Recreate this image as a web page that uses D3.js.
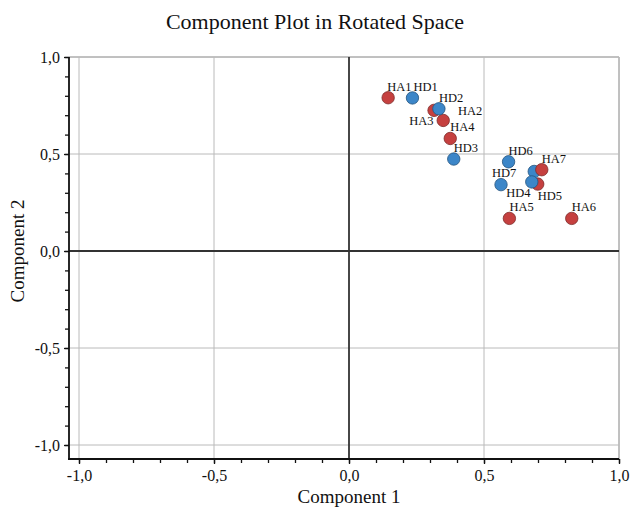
<!DOCTYPE html>
<html>
<head>
<meta charset="utf-8">
<script src="https://cdn.jsdelivr.net/npm/d3@7"></script>
<style>
  body { margin: 0; background: #fff; }
  svg { display: block; }
  text { font-family: "Liberation Serif", "DejaVu Serif", serif; fill: #111; }
</style>
</head>
<body>
<svg id="chart" width="630" height="510"></svg>
<script>
// ---- data ----
const haNames = ["HA1", "HA2", "HA3", "HA4", "HA5", "HA6", "HA7", ""];
const haX = [0.145, 0.315, 0.349, 0.375, 0.594, 0.825, 0.714, 0.699];
const haY = [0.790, 0.725, 0.673, 0.580, 0.168, 0.168, 0.419, 0.345];

const hdNames = ["HD1", "HD2", "HD3", "HD4", "HD5", "HD6", "HD7"];
const hdX = [0.235, 0.333, 0.388, 0.686, 0.677, 0.591, 0.563];
const hdY = [0.789, 0.733, 0.474, 0.410, 0.356, 0.460, 0.342];

const majorTicks = [-1.0, -0.5, 0.0, 0.5, 1.0];
const minorTicks = [-1.0, -0.9, -0.8, -0.7, -0.6, -0.5, -0.4, -0.3, -0.2, -0.1, 0.0,
                    0.1, 0.2, 0.3, 0.4, 0.5, 0.6, 0.7, 0.8, 0.9, 1.0];

const title = "Component Plot in Rotated Space";
const xTitle = "Component 1";
const yTitle = "Component 2";

// ---- layout / style (not data) ----
const labelOffsets = {   // [dx, dy] from point centre to text start / baseline
  "HA1": [-1, -7], "HD1": [1, -7],
  "HA2": [24, 5], "HA3": [-34, 5], "HD7": [-9, -8], "HD4": [-28, 26], "HD5": [6, 18]
};
const defaultOffset = [0, -7];
const colors = {
  HA: { fill: "#c5403f", stroke: "#7d2b2a" },
  HD: { fill: "#3c86c8", stroke: "#24547f" }
};

const svg = d3.select("#chart");
const x = d3.scaleLinear().domain([-1, 1]).range([79, 619]);
const y = d3.scaleLinear().domain([-1, 1]).range([445, 57]);
const xMinLeft = x.invert(69);
const yMinBottom = y.invert(459);
const fmt = d => d3.format(".1f")(d).replace(".", ",").replace("−", "-");

// title
svg.append("text").attr("x", 315).attr("y", 29).attr("text-anchor", "middle")
  .style("font-size", "22px").text(title);

// frame top/right
svg.append("line").attr("x1", x(xMinLeft)).attr("x2", x(1)).attr("y1", y(1)).attr("y2", y(1))
  .attr("stroke", "#b4b4b4").attr("stroke-width", 1.5);
svg.append("line").attr("x1", x(1)).attr("x2", x(1)).attr("y1", y(1)).attr("y2", y(yMinBottom))
  .attr("stroke", "#b4b4b4").attr("stroke-width", 1.5);

// gridlines
const gridVals = majorTicks.filter(v => v !== 0);
svg.append("g").selectAll("line.gx").data(gridVals).join("line")
  .attr("x1", d => x(d)).attr("x2", d => x(d)).attr("y1", y(1)).attr("y2", y(yMinBottom))
  .attr("stroke", "#bababa").attr("stroke-width", 1);
svg.append("g").selectAll("line.gy").data(gridVals).join("line")
  .attr("x1", x(xMinLeft)).attr("x2", x(1)).attr("y1", d => y(d)).attr("y2", d => y(d))
  .attr("stroke", "#bababa").attr("stroke-width", 1);

// zero lines
svg.append("line").attr("x1", x(0)).attr("x2", x(0)).attr("y1", y(1)).attr("y2", y(yMinBottom))
  .attr("stroke", "#333").attr("stroke-width", 1.8);
svg.append("line").attr("x1", x(xMinLeft)).attr("x2", x(1)).attr("y1", y(0)).attr("y2", y(0))
  .attr("stroke", "#333").attr("stroke-width", 1.8);

// axes
const xAxisG = svg.append("g").attr("transform", `translate(0,${y(yMinBottom)})`);
xAxisG.call(d3.axisBottom(x).tickValues(minorTicks).tickSize(4).tickFormat(""));
xAxisG.select(".domain").remove();
xAxisG.selectAll(".tick line").attr("stroke", "#111").attr("stroke-width", 1.3);
const xLab = svg.append("g").attr("transform", `translate(0,${y(yMinBottom)})`);
xLab.call(d3.axisBottom(x).tickValues(majorTicks).tickSize(5).tickPadding(6).tickFormat(fmt));
xLab.select(".domain").remove();
xLab.selectAll(".tick line").attr("stroke", "#111").attr("stroke-width", 1.3);
xLab.selectAll(".tick text").style("font-size", "16px").attr("fill", "#111")
  .style("font-family", '"Liberation Serif", serif');

const yAxisG = svg.append("g").attr("transform", `translate(${x(xMinLeft)},0)`);
yAxisG.call(d3.axisLeft(y).tickValues(minorTicks).tickSize(4).tickFormat(""));
yAxisG.select(".domain").remove();
yAxisG.selectAll(".tick line").attr("stroke", "#111").attr("stroke-width", 1.3);
const yLab = svg.append("g").attr("transform", `translate(${x(xMinLeft)},0)`);
yLab.call(d3.axisLeft(y).tickValues(majorTicks).tickSize(5).tickPadding(4).tickFormat(fmt));
yLab.select(".domain").remove();
yLab.selectAll(".tick line").attr("stroke", "#111").attr("stroke-width", 1.3);
yLab.selectAll(".tick text").style("font-size", "16px").attr("fill", "#111")
  .style("font-family", '"Liberation Serif", serif');

// spines
svg.append("line").attr("x1", x(xMinLeft)).attr("x2", x(xMinLeft)).attr("y1", y(1)).attr("y2", y(yMinBottom) + 0.9)
  .attr("stroke", "#111").attr("stroke-width", 1.8);
svg.append("line").attr("x1", x(xMinLeft) - 0.9).attr("x2", x(1)).attr("y1", y(yMinBottom)).attr("y2", y(yMinBottom))
  .attr("stroke", "#111").attr("stroke-width", 1.8);

// axis titles
svg.append("text").attr("x", x(0)).attr("y", 503).attr("text-anchor", "middle")
  .style("font-size", "19px").text(xTitle);
svg.append("text").attr("transform", `translate(24,${y(0)}) rotate(-90)`).attr("text-anchor", "middle")
  .style("font-size", "19px").text(yTitle);

// points (draw order: reds except HA7, then blues, then HA7)
const ha = haNames.map((n, i) => ({ name: n, x: haX[i], y: haY[i], g: "HA" }));
const hd = hdNames.map((n, i) => ({ name: n, x: hdX[i], y: hdY[i], g: "HD" }));
const pts = [...ha.filter(d => d.name !== "HA7"), ...hd, ...ha.filter(d => d.name === "HA7")];

svg.append("g").selectAll("circle").data(pts).join("circle")
  .attr("cx", d => x(d.x)).attr("cy", d => y(d.y)).attr("r", 6.2)
  .attr("fill", d => colors[d.g].fill).attr("stroke", d => colors[d.g].stroke).attr("stroke-width", 0.8);

svg.append("g").selectAll("text").data(pts.filter(d => d.name)).join("text")
  .attr("x", d => x(d.x) + (labelOffsets[d.name] || defaultOffset)[0])
  .attr("y", d => y(d.y) + (labelOffsets[d.name] || defaultOffset)[1])
  .style("font-size", "12.5px").text(d => d.name);
</script>
</body>
</html>
